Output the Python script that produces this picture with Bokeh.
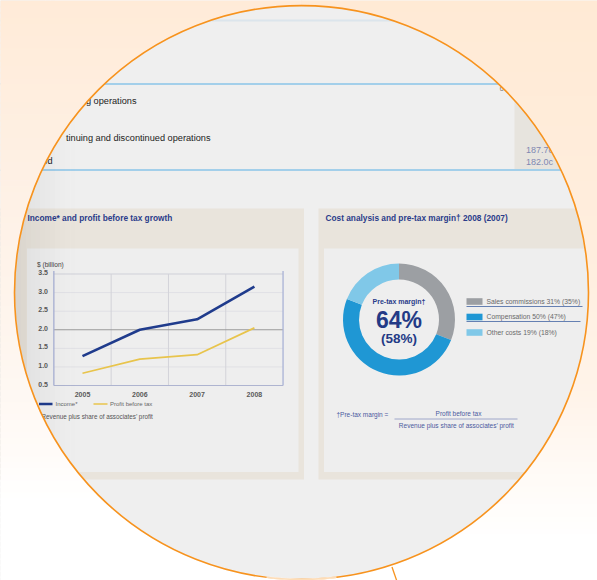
import numpy as np
from bokeh.plotting import figure
from bokeh.models import Range1d
from bokeh.core.properties import value
from bokeh.embed import file_html
from bokeh.resources import INLINE

# ---------------- data ----------------
years = [2005, 2006, 2007, 2008]
year_labels = ["2005", "2006", "2007", "2008"]
income = [1.29, 2.00, 2.28, 3.16]
profit = [0.83, 1.21, 1.33, 2.05]
y_ticks = [0.5, 1.0, 1.5, 2.0, 2.5, 3.0, 3.5]
y_tick_labels = ["0.5", "1.0", "1.5", "2.0", "2.5", "3.0", "3.5"]

cost_labels = ["Sales commissions", "Compensation", "Other costs"]
cost_2008 = [31, 50, 19]
cost_2007 = [35, 47, 18]
cost_colors = ["#9C9FA3", "#1F97D4", "#80C8E8"]
margin_2008 = 64
margin_2007 = 58

FONT = "Liberation Sans"
NAVY = "#2B3C8A"

W, H = 597, 580
# ---------------- figure (pixel-like coordinates of the page) ----------------
p = figure(width=W, height=H, x_range=Range1d(0, W), y_range=Range1d(H, 0),
           output_backend="svg", toolbar_location=None, min_border=0,
           x_axis_location=None, y_axis_location=None)
p.grid.visible = False
p.outline_line_color = None
p.background_fill_color = "#EFEFEF"
p.border_fill_color = "white"

# line chart scales: year -> px, value -> px
X2005, KX = 82.0, 57.3
YB, YT = 385.0, 273.5          # value 0.5 and 3.5
KY = (YB - YT) / 3.0
p.extra_x_ranges = {"yr": Range1d(2005 + (0 - X2005) / KX, 2005 + (W - X2005) / KX)}
p.extra_y_ranges = {"val": Range1d(0.5 + (YB - H) / KY, 0.5 + (YB - 0) / KY),
                    "up": Range1d(-H, 0)}


def txt(x, y, s, size, color, bold=False, align="left", **kw):
    p.text(x=[x], y=[y], text=[s], text_font=value(FONT), text_font_size=value(f"{size}px"),
           text_font_style="bold" if bold else "normal", text_color=color,
           text_align=align, text_baseline="middle", **kw)


# ---------------- top table fragment ----------------
p.segment(x0=[0], y0=[20], x1=[600], y1=[20], line_color="#DCE5EC", line_width=2)
p.quad(left=[514], right=[600], top=[84], bottom=[169], fill_color="#E7E4DE", line_color=None)
p.segment(x0=[0, 0], y0=[83.5, 169.5], x1=[600, 600], y1=[83.5, 169.5],
          line_color="#A3CFEA", line_width=2)
txt(136, 100.5, "g operations", 9.2, "#222222", align="right")
txt(210, 137, "tinuing and discontinued operations", 9.2, "#222222", align="right")
txt(52, 160, "od", 9.2, "#222222", align="right")
txt(499, 88, "6", 8, "#8A8A8A")
txt(525.5, 149.5, "187.7c", 9, "#7F88B2")
txt(525.5, 161.5, "182.0c", 9, "#7F88B2")

# ---------------- panels ----------------
p.quad(left=[-10, 318], right=[303.5, 640], top=[208, 208], bottom=[479, 479],
       fill_color="#E9E4DC", line_color=None)
p.quad(left=[26.5, 323.5], right=[298, 640], top=[248, 248], bottom=[471.5, 471.5],
       fill_color="#EEEEEE", line_color=None)
txt(27, 217.5, "Income* and profit before tax growth", 8.3, NAVY, bold=True)
txt(325, 217.5, "Cost analysis and pre-tax margin\u2020 2008 (2007)", 8.3, NAVY, bold=True)

# ---------------- line chart ----------------
R = dict(x_range_name="yr", y_range_name="val")
x_left, x_right = years[0] - 0.5, years[-1] + 0.5
minor = [v for v in y_ticks if v not in (0.5, 2.0, 3.5)]
p.segment(x0=[x_left] * len(minor), x1=[x_right] * len(minor), y0=minor, y1=minor,
          line_color="#E0E0E5", line_width=1, **R)
p.segment(x0=[x_left], x1=[x_right], y0=[3.5], y1=[3.5], line_color="#CFD0D8", line_width=1, **R)
mids = [y + 0.5 for y in years[:-1]]
p.segment(x0=mids, x1=mids, y0=[0.5] * 3, y1=[3.5] * 3, line_color="#D3D3D9", line_width=1, **R)
p.segment(x0=[x_left], x1=[x_right], y0=[2.0], y1=[2.0], line_color="#9A9A9A", line_width=1, **R)
p.segment(x0=[x_left, x_right], x1=[x_left, x_right], y0=[0.5, 0.5], y1=[3.58, 3.58],
          line_color="#A9B2D6", line_width=1.3, **R)
p.segment(x0=[x_left], x1=[x_right], y0=[0.5], y1=[0.5], line_color="#AEB4D0", line_width=1.2, **R)

p.line(years, profit, line_color="#E8C44C", line_width=1.7, **R)
p.line(years, income, line_color="#1F3B8C", line_width=2.6, **R)

p.text(x=[2005 + (47.5 - X2005) / KX] * len(y_ticks), y=y_ticks, text=y_tick_labels,
       text_font=value(FONT), text_font_size=value("7px"), text_font_style="bold",
       text_color="#5A5A5A", text_align="right", text_baseline="middle", y_offset=-1.5, **R)
p.text(x=years, y=[0.5] * 4, text=year_labels, text_font=value(FONT),
       text_font_size=value("7px"), text_font_style="bold", text_color="#5A5A5A",
       text_align="center", text_baseline="middle", y_offset=8.5, **R)
txt(36.5, 264, "$ (billion)", 6.6, "#444444")

# legend + footnote
p.segment(x0=[38.5], y0=[403.5], x1=[52], y1=[403.5], line_color="#1F3B8C", line_width=2.4)
p.segment(x0=[93], y0=[403.5], x1=[107], y1=[403.5], line_color="#E8C44C", line_width=1.6)
txt(55, 403.5, "Income*", 6, "#666666")
txt(109.5, 403.5, "Profit before tax", 6, "#666666")
txt(38.5, 415.5, "*Revenue plus share of associates\u2019 profit", 6.3, "#555555")

# ---------------- donut ----------------
CX, CY = 398.5, 319.0
fr = np.array(cost_2008, dtype=float) / sum(cost_2008)
cum = np.concatenate([[0], np.cumsum(fr)])
starts = np.pi / 2 - 2 * np.pi * cum[:-1]
ends = np.pi / 2 - 2 * np.pi * cum[1:]
p.annular_wedge(x=[CX] * 3, y=[-CY] * 3, inner_radius=40, outer_radius=56,
                inner_radius_units="screen", outer_radius_units="screen",
                start_angle=list(starts), end_angle=list(ends), direction="clock",
                fill_color=cost_colors, line_color=None, y_range_name="up")
txt(CX, 301, "Pre-tax margin\u2020", 7, NAVY, bold=True, align="center")
txt(CX, 319, f"{margin_2008}%", 23, "#233A86", bold=True, align="center")
txt(CX, 337.5, f"({margin_2007}%)", 13.5, "#233A86", bold=True, align="center")

rows_y = [301, 316.5, 332]
p.quad(left=[466] * 3, right=[482] * 3, top=[y - 3.3 for y in rows_y],
       bottom=[y + 3.3 for y in rows_y], fill_color=cost_colors, line_color=None)
p.segment(x0=[466, 466], y0=[306, 321], x1=[582, 580], y1=[306, 321],
          line_color="#5573AA", line_width=0.9)
for i, lab in enumerate(cost_labels):
    txt(486, rows_y[i] - 0.5, f"{lab} {cost_2008[i]}% ({cost_2007[i]}%)", 6.8, "#6A6A6A")

txt(336, 413.5, "\u2020Pre-tax margin =", 6.5, "#4B5A9E")
txt(458, 413, "Profit before tax", 6.5, "#4B5A9E", align="center")
p.segment(x0=[394], y0=[418.5], x1=[517], y1=[418.5], line_color="#8A94C0", line_width=0.8)
txt(456, 424.5, "Revenue plus share of associates\u2019 profit", 6.5, "#4B5A9E", align="center")

# ---------------- left vignette ----------------
n = 16
p.quad(left=[i * 5 for i in range(n)], right=[i * 5 + 5 for i in range(n)],
       top=[0] * n, bottom=[590] * n, fill_color="black",
       fill_alpha=[0.085 * (1 - i / n) ** 1.6 for i in range(n)], line_color=None)

# ---------------- mask outside the magnifier circle ----------------
CCX, CCY, RR = 301.0, 292.0, 287.0


def interp(stops, y):
    ys = [s[0] for s in stops]
    c = [np.interp(y, ys, [s[1][k] for s in stops]) for k in range(3)]
    return "#%02x%02x%02x" % tuple(int(round(v)) for v in c)


left_stops = [(0, (255, 235, 216)), (200, (254, 241, 230)), (350, (254, 246, 239)),
              (450, (255, 251, 248)), (500, (255, 255, 255)), (700, (255, 255, 255))]
right_stops = [(0, (255, 234, 213)), (250, (255, 238, 222)), (400, (255, 244, 234)),
               (480, (255, 251, 247)), (540, (255, 255, 255)), (700, (255, 255, 255))]
xs_all, ys_all, cols = [], [], []
step = 6
for y0 in range(0, 584, step):
    y1 = y0 + step + 1
    yy = np.linspace(y0, y1, 9)
    dx = np.sqrt(np.clip(RR ** 2 - (yy - CCY) ** 2, 0, None))
    xs_all.append([-10] + list(CCX - dx) + [-10])
    ys_all.append([y0] + list(yy) + [y1])
    cols.append(interp(left_stops, y0 + step / 2))
    xs_all.append([610] + list(CCX + dx) + [610])
    ys_all.append([y0] + list(yy) + [y1])
    cols.append(interp(right_stops, y0 + step / 2))
p.patches(xs_all, ys_all, fill_color=cols, line_color=cols, line_width=0.6)

# circle rim, glint and pointer
p.circle(x=[CCX], y=[-CCY], radius=RR, fill_color=None, line_color="#F7931E",
         line_width=1.6, y_range_name="up")
p.arc(x=[CCX], y=[-CCY], radius=RR, start_angle=np.radians(-97), end_angle=np.radians(-83),
      line_color="#FFF4EA", line_alpha=0.75, line_width=2, y_range_name="up")
p.segment(x0=[391.5], y0=[566.5], x1=[396.5], y1=[581], line_color="#F7931E", line_width=1.3)

open("out.html", "w").write(file_html(p, INLINE))
